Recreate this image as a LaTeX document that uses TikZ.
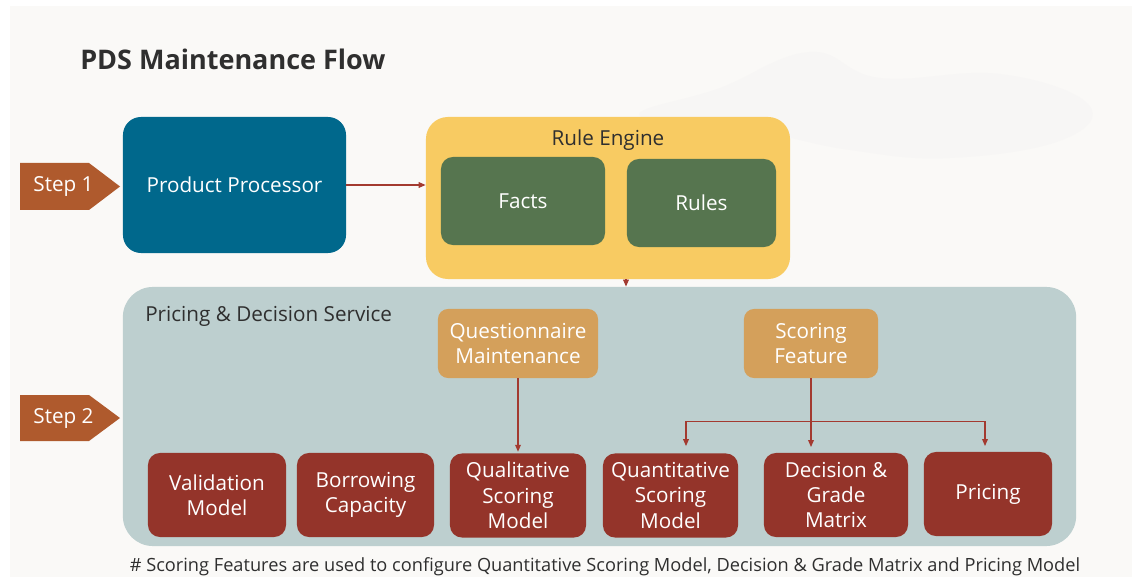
\documentclass[tikz,border=0pt]{standalone}
\usepackage{fontspec}
\setmainfont{Open Sans}
\usepackage{xcolor}
\usepackage{tikz}
\usetikzlibrary{arrows.meta,positioning,calc}

\definecolor{bgc}{HTML}{FAF9F7}
\definecolor{stepc}{HTML}{AF5A2D}
\definecolor{ppblue}{HTML}{00688C}
\definecolor{reyel}{HTML}{F8CB62}
\definecolor{fgreen}{HTML}{56754F}
\definecolor{pdsgray}{HTML}{BDCFCF}
\definecolor{qtan}{HTML}{D4A05B}
\definecolor{mred}{HTML}{94342A}
\definecolor{arrc}{HTML}{A33A30}
\definecolor{txtd}{HTML}{2F2F2F}
\definecolor{blobc}{HTML}{F7F6F5}

\begin{document}
\begin{tikzpicture}[x=0.025cm,y=-0.025cm,
  stp/.style={text=white,inner sep=0pt,font=\fontsize{14.7}{18}\selectfont},
  bx/.style={rounded corners=0.3cm,text=white,align=center,inner sep=0pt,
    font=\fontsize{14.7}{18}\selectfont},
  mb/.style={bx,fill=mred,minimum height=2.1cm},
  lb/.style={text=txtd,inner sep=0pt,font=\fontsize{14.7}{18}\selectfont},
  arr/.style={arrc,line width=1pt,-{Triangle[length=5pt,width=4pt]}}
]
\useasboundingbox (0,0) rectangle (1132,577);
\fill[white] (0,0) rectangle (1132,577);
\fill[bgc] (10,6) rectangle (1132,577);
% faint texture at the top right
\fill[blobc] plot[smooth cycle,tension=0.7] coordinates
  {(640,116) (720,88) (810,52) (880,78) (1000,74) (1088,104) (1062,140) (950,158) (850,150) (760,132)};
% ---- title ----
\node[anchor=base west,inner sep=0pt,text=txtd,font=\fontsize{19.2}{22}\selectfont\bfseries] (title) at (80,70) {PDS Maintenance Flow};
% ---- step 1: product processor and rule engine ----
\fill[stepc] (20,163) -- (89,163) -- (120,186.5) -- (89,210) -- (20,210) -- cycle;
\node[stp] (s1) at (63.5,186.5) {Step 1};
\node[bx,fill=ppblue,rounded corners=0.45cm,minimum width=5.575cm,minimum height=3.4cm] (pp) at (234.5,185) {Product Processor};
\node[bx,fill=reyel,rounded corners=0.55cm,minimum width=9.1cm,minimum height=4.05cm] (re) at (608,198) {};
\node[lb] (relb) at (608,140) {Rule Engine};
\node[bx,fill=fgreen,minimum width=4.1cm,minimum height=2.2cm] (facts) at (523,201) {Facts};
\node[bx,fill=fgreen,minimum width=3.725cm,minimum height=2.2cm] (rules) at (701.5,203) {Rules};
\draw[arr] (pp.east) -- (pp.east -| re.west);
% ---- step 2: pricing & decision service ----
\fill[stepc] (20,395) -- (89,395) -- (120,418) -- (89,441) -- (20,441) -- cycle;
\node[stp] (s2) at (63.5,418) {Step 2};
\node[bx,fill=pdsgray,rounded corners=0.75cm,minimum width=23.825cm,minimum height=6.475cm] (pds) at (599.5,416.5) {};
\node[lb,anchor=west] (pdslb) at (145,316) {Pricing \& Decision Service};
\coordinate (reout) at ($(re.south)+(18,0)$);
\draw[arr] (reout) -- (reout |- pds.north);
\node[bx,fill=qtan,rounded corners=0.25cm,minimum width=4cm,minimum height=1.725cm] (qm) at (518,343.5) {Questionnaire\\Maintenance};
\node[bx,fill=qtan,rounded corners=0.25cm,minimum width=3.35cm,minimum height=1.725cm] (sf) at (811,343.5) {Scoring\\Feature};
% bottom row of models
\node[mb,minimum width=3.45cm] (vm) at (217,495) {Validation\\Model};
\node[mb,minimum width=3.425cm] (bc) at (365.5,495) {Borrowing\\Capacity};
\node[mb,minimum width=3.4cm] (qsm) at (518,495.5) {Qualitative\\Scoring\\Model};
\node[mb,minimum width=3.375cm] (qnt) at (670.5,495.5) {Quantitative\\Scoring\\Model};
\node[mb,minimum width=3.6cm] (dgm) at (836,495) {Decision \&\\Grade\\Matrix};
\node[mb,minimum width=3.2cm] (pr) at (988,494) {Pricing};
% connectors inside the service
\draw[arr,shorten >=1pt] (qm.south) -- (qm.south |- qsm.north);
\coordinate (fork) at ($(sf.south)+(1,43)$);
\draw[arr,shorten >=4pt] (sf.south) -- (sf.south |- dgm.north);
\draw[arr,shorten >=5pt] (fork) -| ($(qnt.north)+(15.5,0)$);
\draw[arr,shorten >=4pt] (fork) -| ($(pr.north)+(-3,0)$);
% ---- footnote ----
\node[anchor=base,inner sep=0pt,text=txtd,font=\fontsize{12.95}{15}\selectfont] (note) at (605,571.5)
  {\# Scoring Features are used to configure Quantitative Scoring Model, Decision \& Grade Matrix and Pricing Model};
\end{tikzpicture}
\end{document}
